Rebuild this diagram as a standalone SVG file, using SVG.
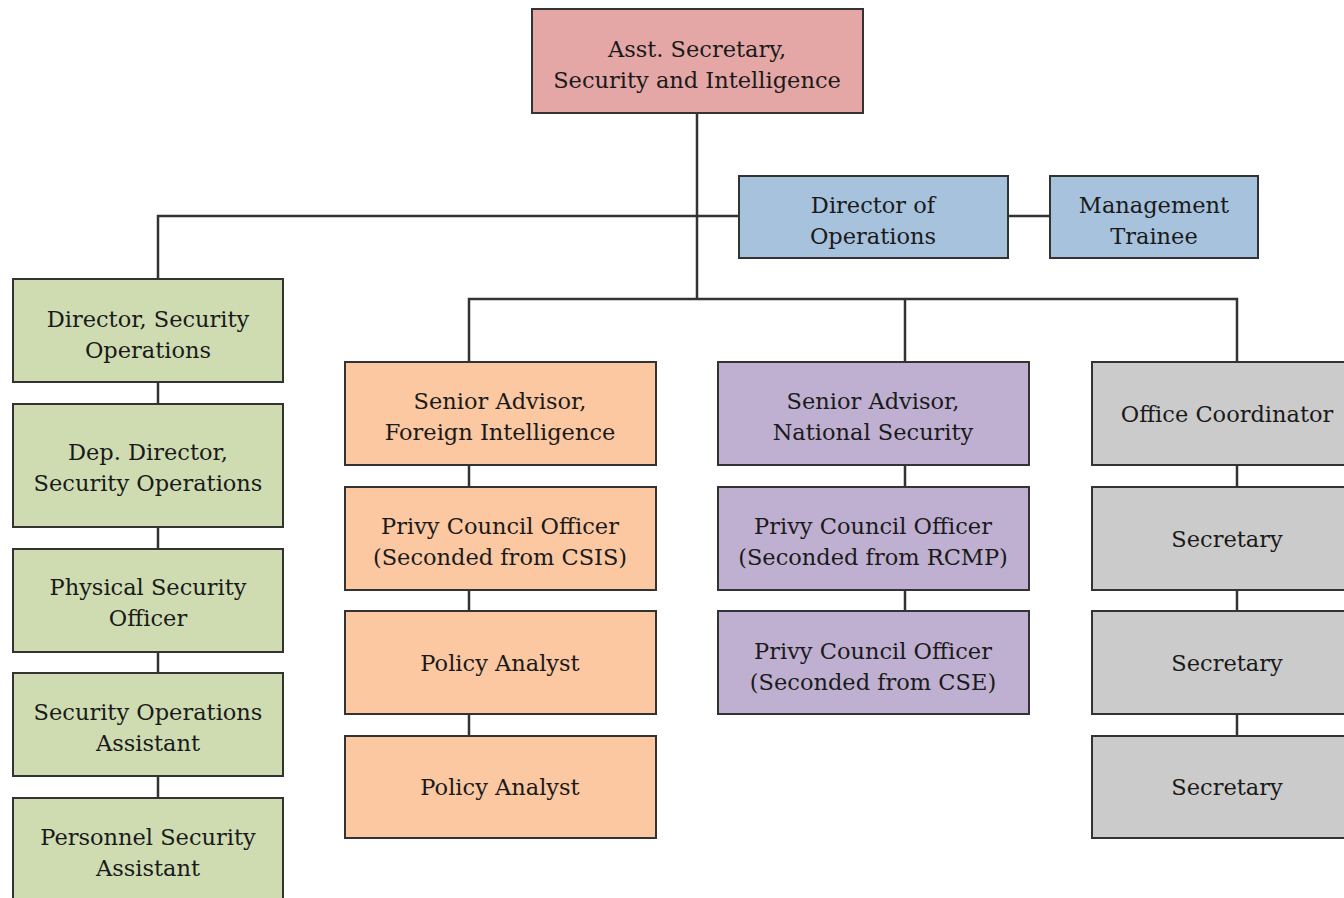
<svg xmlns="http://www.w3.org/2000/svg" width="1344" height="898" viewBox="0 0 1344 898">
<style>
rect{stroke:#333;stroke-width:2}
.pink{fill:#E4A7A6}.blue{fill:#A6C2DD}.green{fill:#CFDCB2}.orange{fill:#FBC8A2}.purple{fill:#BFB0D1}.gray{fill:#CBCBCB}
text{font-family:"DejaVu Serif","Liberation Serif",serif;font-size:22.5px;fill:#1a1a1a;text-anchor:middle}
#connectors path{fill:none;stroke:#333;stroke-width:2.5}
</style>
<rect x="0" y="0" width="1344" height="898" fill="#fff" style="stroke:none"/>
<g id="connectors">
<path d="M697 113V299"/>
<path d="M158 279V216H739"/>
<path d="M1008 216H1050"/>
<path d="M469 362V299H1237V362"/>
<path d="M905 299V362"/>
<path d="M158 382V404M158 527V549M158 652V673M158 776V798"/>
<path d="M469 465V487M469 590V611M469 714V736"/>
<path d="M905 465V487M905 590V611"/>
<path d="M1237 465V487M1237 590V611M1237 714V736"/>
</g>
<g id="n-asst"><rect class="pink" x="532" y="9" width="331" height="104"/><text x="697" y="57">Asst. Secretary,</text><text x="697" y="88">Security and Intelligence</text></g>
<g id="n-dirops"><rect class="blue" x="739" y="176" width="269" height="82"/><text x="873" y="213">Director of</text><text x="873" y="244">Operations</text></g>
<g id="n-trainee"><rect class="blue" x="1050" y="176" width="208" height="82"/><text x="1154" y="213">Management</text><text x="1154" y="244">Trainee</text></g>
<g id="n-dirsec"><rect class="green" x="13" y="279" width="270" height="103"/><text x="148" y="327">Director, Security</text><text x="148" y="358">Operations</text></g>
<g id="n-depdir"><rect class="green" x="13" y="404" width="270" height="123"/><text x="148" y="460">Dep. Director,</text><text x="148" y="491">Security Operations</text></g>
<g id="n-physsec"><rect class="green" x="13" y="549" width="270" height="103"/><text x="148" y="595">Physical Security</text><text x="148" y="626">Officer</text></g>
<g id="n-secopsasst"><rect class="green" x="13" y="673" width="270" height="103"/><text x="148" y="720">Security Operations</text><text x="148" y="751">Assistant</text></g>
<g id="n-perssec"><rect class="green" x="13" y="798" width="270" height="122"/><text x="148" y="845">Personnel Security</text><text x="148" y="876">Assistant</text></g>
<g id="n-safi"><rect class="orange" x="345" y="362" width="311" height="103"/><text x="500" y="409">Senior Advisor,</text><text x="500" y="440">Foreign Intelligence</text></g>
<g id="n-pco-csis"><rect class="orange" x="345" y="487" width="311" height="103"/><text x="500" y="534">Privy Council Officer</text><text x="500" y="565">(Seconded from CSIS)</text></g>
<g id="n-pa1"><rect class="orange" x="345" y="611" width="311" height="103"/><text x="500" y="671">Policy Analyst</text></g>
<g id="n-pa2"><rect class="orange" x="345" y="736" width="311" height="102"/><text x="500" y="795">Policy Analyst</text></g>
<g id="n-sans"><rect class="purple" x="718" y="362" width="311" height="103"/><text x="873" y="409">Senior Advisor,</text><text x="873" y="440">National Security</text></g>
<g id="n-pco-rcmp"><rect class="purple" x="718" y="487" width="311" height="103"/><text x="873" y="534">Privy Council Officer</text><text x="873" y="565">(Seconded from RCMP)</text></g>
<g id="n-pco-cse"><rect class="purple" x="718" y="611" width="311" height="103"/><text x="873" y="659">Privy Council Officer</text><text x="873" y="690">(Seconded from CSE)</text></g>
<g id="n-offcoord"><rect class="gray" x="1092" y="362" width="270" height="103"/><text x="1227" y="422">Office Coordinator</text></g>
<g id="n-sec1"><rect class="gray" x="1092" y="487" width="270" height="103"/><text x="1227" y="547">Secretary</text></g>
<g id="n-sec2"><rect class="gray" x="1092" y="611" width="270" height="103"/><text x="1227" y="671">Secretary</text></g>
<g id="n-sec3"><rect class="gray" x="1092" y="736" width="270" height="102"/><text x="1227" y="795">Secretary</text></g>
</svg>
